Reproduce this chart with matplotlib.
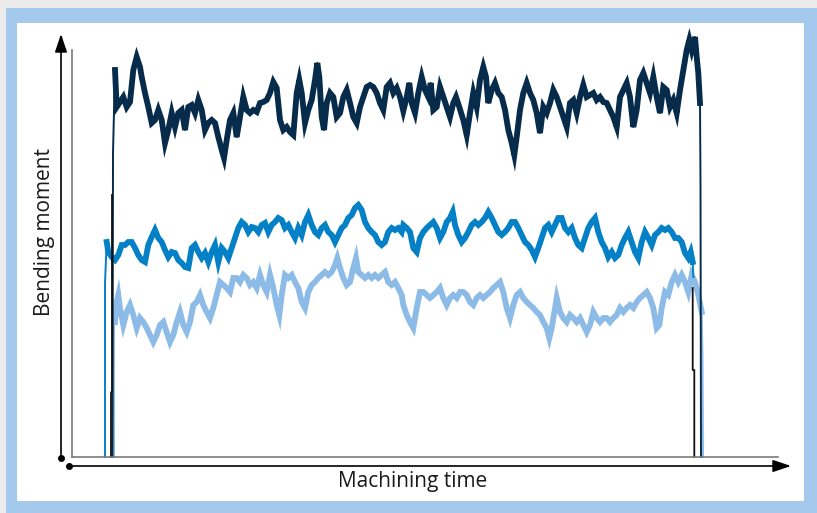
import numpy as np
import matplotlib
matplotlib.use("Agg")
from matplotlib import pyplot as plt
from matplotlib.patches import Rectangle

# time and bending moment (arbitrary units)
navy_time = [112.5, 113, 115, 116.7, 120, 123.3, 126.7, 130, 133.3, 136.7, 140, 141.7, 145, 148.3, 151.7, 155,
             158.3, 161.7, 165, 168.3, 171.7, 175, 178.3, 181.7, 185, 188.3, 191.7, 195, 198.3, 201.7, 205, 208.3,
             211.7, 215, 218.3, 221.7, 224, 226.7, 230, 233.3, 236.7, 240, 243.3, 246.7, 250, 253.3, 256.7, 260,
             263.3, 266.7, 270, 273.3, 276.7, 280, 283.3, 286.7, 290, 293.3, 296.7, 299.3, 301.7, 305, 308.3, 311.7,
             315, 317.3, 319.3, 321.7, 324, 326.7, 330, 333.3, 336.7, 340, 343.3, 346.7, 350, 353.3, 356.7, 360,
             363.3, 366.7, 370, 373.3, 376.7, 380, 383.3, 386.7, 390, 393.3, 396.7, 400, 403.3, 406.7, 409.3, 411.7,
             415, 418.3, 421.7, 425, 428.3, 430.7, 433.3, 436.7, 440, 443.3, 446.7, 450, 453.3, 456, 459.3, 463.3,
             466.7, 470, 473.3, 476.7, 480, 483.3, 486, 488.3, 491.7, 495, 498.3, 501.7, 505, 508.3, 511.7, 514.3,
             516.7, 520, 523.3, 526.7, 530, 533.3, 536.7, 540, 543.3, 546.7, 550, 553.3, 556.7, 560, 563.3, 566.7,
             570, 573.3, 576.7, 580, 583.3, 586.7, 590, 593.3, 596.7, 600, 603.3, 606.7, 610, 613.3, 616.7, 620,
             623.3, 626.7, 630, 633.3, 636.7, 640, 643.3, 646.7, 650, 653.3, 656.7, 660, 663.3, 666.7, 670, 673.3,
             676.7, 680, 683.3, 686.7, 689.3, 691.7, 695, 696.7, 698.3, 700, 700.5, 701]
navy_moment = [0, 304, 387, 350, 355, 360, 350, 355, 387, 400, 390, 380, 364, 350, 334, 337,
               347, 337, 314, 327, 344, 330, 344, 347, 327, 350, 352, 344, 357, 347, 327, 334,
               337, 334, 320, 307, 299, 317, 337, 344, 320, 340, 360, 347, 344, 347, 345, 354,
               355, 357, 364, 375, 369, 337, 327, 330, 325, 322, 364, 377, 364, 334, 347, 357,
               377, 394, 380, 340, 327, 354, 364, 360, 340, 344, 360, 367, 354, 340, 334, 350,
               360, 370, 372, 370, 364, 354, 347, 370, 374, 364, 369, 360, 346, 360, 374, 354,
               344, 364, 380, 367, 360, 374, 347, 350, 370, 360, 350, 340, 354, 360, 350, 337,
               322, 344, 364, 350, 377, 390, 380, 354, 367, 374, 364, 360, 347, 327, 314, 302,
               320, 347, 364, 374, 364, 357, 344, 324, 350, 344, 354, 367, 360, 350, 340, 330,
               354, 357, 344, 360, 372, 360, 362, 364, 357, 360, 355, 354, 347, 340, 330, 360,
               367, 374, 360, 330, 347, 377, 384, 374, 364, 380, 360, 344, 370, 367, 350, 357,
               344, 367, 387, 407, 417, 407, 420, 400, 384, 354, 274, 0]

mid_time = [105, 105, 106.7, 108.3, 111.7, 115, 118.3, 121.7, 125, 128.3, 131.7, 135, 138.3, 141.7, 145, 148.3,
            151.7, 155, 158.3, 161.7, 165, 168.3, 171.7, 175, 178.3, 181.7, 185, 188.3, 191.7, 195, 198.3, 201.7,
            205, 208.3, 211.7, 215, 218.3, 221.7, 225, 228.3, 231.7, 235, 238.3, 241.7, 245, 248.3, 251.7, 255,
            258.3, 261.7, 265, 268.3, 271.7, 275, 278.3, 281.7, 285, 288.3, 291.7, 295, 298.3, 301.7, 305, 308.3,
            311.7, 315, 318.3, 321.7, 325, 328.3, 331.7, 335, 338.3, 341.7, 345, 348.3, 351.7, 355, 358.3, 361.7,
            365, 368.3, 371.7, 375, 378.3, 381.7, 385, 388.3, 391.7, 395, 398.3, 401.7, 403.3, 406.7, 410, 413.3,
            416.7, 420, 423.3, 426.7, 430, 433.3, 436.7, 440, 443.3, 446.7, 450, 452.7, 455, 458.3, 461.7, 465,
            468.3, 471.7, 475, 478.3, 481.7, 485, 488.3, 491.7, 495, 498.3, 501.7, 505, 508.3, 511.7, 515, 518.3,
            521.7, 525, 528.3, 531.7, 535, 538.3, 541.7, 545, 548.3, 551.7, 555, 558.3, 561.7, 565, 568.3, 571.7,
            575, 578.3, 581.7, 585, 588.3, 591.7, 595, 598.3, 601.7, 605, 608.3, 611.7, 615, 618.3, 621.7, 625,
            628.3, 631.7, 635, 638.3, 641.7, 645, 648.3, 651.7, 655, 658.3, 661.7, 665, 668.3, 671.7, 675, 678.3,
            681.7, 685, 688.3, 690.7, 692.7, 693.3]
mid_moment = [0, 174, 215, 205, 200, 197, 202, 212, 212, 215, 215, 209, 202, 197, 195, 212,
              220, 227, 219, 215, 207, 200, 205, 204, 197, 194, 190, 189, 209, 212, 205, 199,
              204, 195, 205, 212, 195, 209, 205, 199, 209, 219, 229, 235, 232, 225, 230, 229,
              225, 232, 234, 225, 232, 235, 239, 237, 229, 232, 225, 219, 229, 222, 235, 242,
              232, 225, 222, 229, 232, 225, 222, 215, 222, 229, 232, 239, 242, 249, 252, 247,
              235, 229, 225, 222, 215, 212, 215, 225, 229, 227, 229, 225, 232, 229, 225, 209,
              205, 219, 225, 229, 232, 235, 229, 219, 225, 235, 239, 245, 232, 222, 215, 219,
              225, 232, 235, 232, 235, 239, 245, 239, 232, 225, 222, 225, 229, 235, 235, 229,
              222, 215, 212, 207, 200, 209, 219, 229, 232, 225, 232, 239, 239, 229, 225, 229,
              219, 212, 209, 219, 229, 235, 239, 225, 215, 209, 200, 205, 199, 202, 212, 219,
              225, 215, 205, 199, 215, 225, 219, 212, 222, 225, 229, 227, 229, 225, 219, 219,
              215, 204, 199, 205, 195, 180]

light_time = [114, 114, 115, 116.7, 118.3, 120, 123.3, 126.7, 130, 133.3, 136.7, 140, 143.3, 146.7, 150, 153.3,
              156.7, 160, 163.3, 166.7, 170, 173.3, 176.7, 180, 183.3, 186.7, 190, 193.3, 196.7, 200, 203.3, 206.7,
              210, 213.3, 216.7, 220, 223.3, 226.7, 230, 233.3, 236.7, 240, 243.3, 246.7, 250, 253.3, 256.7, 260,
              263.3, 266.7, 270, 273.3, 276.7, 279.3, 281.7, 285, 288.3, 291.7, 295, 298.3, 301.7, 305, 308.3, 311.7,
              315, 318.3, 321.7, 325, 328.3, 331.7, 335, 337.3, 340, 343.3, 346.7, 350, 353.3, 356, 358.3, 361.7,
              365, 368.3, 371.7, 375, 378.3, 381.7, 385, 388.3, 391.7, 395, 398.3, 401.7, 403.3, 406.7, 410, 413.3,
              416.7, 420, 423.3, 426.7, 430, 433.3, 436.7, 440, 443.3, 446.7, 450, 453.3, 456.7, 460, 463.3, 466.7,
              470, 473.3, 476.7, 480, 483.3, 486.7, 490, 493.3, 496.7, 500, 503.3, 506.7, 510, 513.3, 516.7, 520,
              523.3, 526.7, 530, 533.3, 536.7, 540, 543.3, 546.7, 549.3, 551.7, 555, 556.7, 560, 563.3, 566.7, 570,
              573.3, 576.7, 580, 583.3, 586.7, 590, 593.3, 596.7, 600, 603.3, 606.7, 610, 613.3, 616.7, 620, 623.3,
              626.7, 630, 633.3, 636.7, 640, 643.3, 646.7, 650, 653.3, 656.7, 659.3, 661.7, 665, 668.3, 671.7, 675,
              678.3, 681.7, 685, 688.3, 691.7, 695, 698.3, 701.7, 702.5, 703]
light_moment = [0, 130, 135, 155, 162, 149, 132, 145, 152, 142, 129, 139, 135, 129, 122, 115,
                122, 132, 135, 125, 115, 122, 135, 145, 132, 125, 135, 152, 155, 162, 152, 145,
                139, 149, 162, 175, 172, 169, 165, 179, 179, 175, 182, 179, 172, 175, 169, 182,
                172, 165, 182, 169, 152, 142, 162, 182, 179, 182, 175, 169, 155, 149, 165, 172,
                175, 179, 182, 185, 182, 185, 192, 199, 189, 179, 172, 175, 189, 199, 185, 182,
                179, 182, 179, 182, 179, 182, 185, 175, 172, 175, 169, 162, 152, 142, 135, 129,
                149, 165, 165, 162, 159, 162, 165, 169, 159, 152, 159, 162, 159, 165, 165, 162,
                155, 152, 159, 162, 159, 162, 165, 169, 172, 175, 165, 149, 139, 152, 162, 165,
                159, 155, 152, 149, 145, 142, 135, 129, 119, 129, 149, 159, 145, 139, 135, 142,
                139, 135, 139, 132, 125, 132, 145, 139, 135, 139, 139, 135, 139, 142, 149, 145,
                149, 152, 149, 155, 159, 162, 165, 159, 149, 129, 132, 149, 165, 162, 175, 182,
                175, 182, 175, 165, 182, 175, 162, 145, 100, 0]

black_time = [111, 111, 112, 112, np.nan, 692.7, 692.7, 694.3, 694.3]
black_moment = [0, 64, 66, 262, np.nan, 169, 87, 87, 0]

plt.rcParams['font.family'] = ['Open Sans', 'DejaVu Sans']

fig = plt.figure(figsize=(8.17, 5.13), dpi=100)
fig.patch.set_facecolor('#ebebeb')

# frame and decorations in pixel coordinates
bg = fig.add_axes([0, 0, 1, 1])
bg.set_xlim(0, 817)
bg.set_ylim(513, 0)
bg.axis('off')
bg.add_patch(Rectangle((6, 8), 811, 505, facecolor='#a4c9ec', edgecolor='none'))
bg.add_patch(Rectangle((17, 23), 787, 478, facecolor='white', edgecolor='none'))

arrow = dict(arrowstyle='-|>,head_length=1.1,head_width=0.37', color='black', lw=1.2,
             shrinkA=0, shrinkB=0, mutation_scale=10)
bg.annotate('', xy=(61, 34), xytext=(61, 458), arrowprops=arrow)
bg.annotate('', xy=(791, 466), xytext=(69, 466), arrowprops=arrow)
bg.plot([61, 69], [458, 466], 'o', ms=4, color='black')
bg.text(45, 232, 'Bending moment', rotation=90, ha='center', va='center', fontsize=15, color='#1a1a1a')
bg.text(413, 482, 'Machining time', ha='center', va='center', fontsize=15, color='#1a1a1a')

ax = fig.add_axes([72 / 817, (513 - 457) / 513, (778 - 72) / 817, (457 - 50) / 513])
ax.set_facecolor('none')
ax.set_xlim(72, 778)
ax.set_ylim(0, 407)
for s in ['top', 'right']:
    ax.spines[s].set_visible(False)
for s in ['left', 'bottom']:
    ax.spines[s].set_color('#7a7a7a')
    ax.spines[s].set_linewidth(1.2)
ax.set_xticks([])
ax.set_yticks([])

series = [
    (light_time, light_moment, '#8bbbe6', 2, -2),
    (mid_time, mid_moment, '#0480c6', 2, -1),
    (navy_time, navy_moment, '#072b4b', 2, -2),
]
for t, m, c, a, b in series:
    ax.plot(t, m, color=c, lw=1.4, clip_on=False)
    ax.plot(t[a:b], m[a:b], color=c, lw=4.2, clip_on=False, solid_joinstyle='miter')
ax.plot(black_time, black_moment, color='#111111', lw=1.3, clip_on=False)

fig.savefig('out.png', dpi=100, facecolor=fig.get_facecolor())
